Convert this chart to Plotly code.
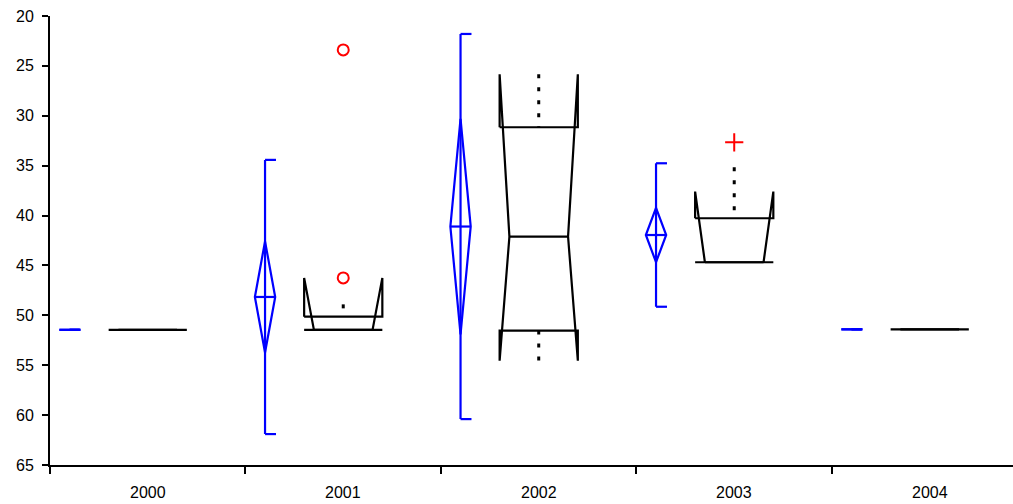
import plotly.graph_objects as go

# ---- data ----
categories = ["2000", "2001", "2002", "2003", "2004"]
mean = [51.45, 48.16, 41.1, 41.95, 51.4]
ci = [0.0, 5.57, 10.8, 2.72, 0.0]
sd = [0.0, 13.74, 19.3, 7.19, 0.0]
q1 = [51.45, 50.13, 31.15, 40.27, 51.4]
median = [51.45, 51.46, 42.11, 44.68, 51.4]
q3 = [51.45, 51.46, 51.53, 44.68, 51.4]
notch_lo = [51.45, 46.25, 25.84, 37.6, 51.4]
notch_hi = [51.45, 51.46, 54.54, 44.68, 51.4]
whisk_lo = [51.45, 48.9, 25.84, 35.16, 51.4]
whisk_hi = [51.45, 51.46, 54.54, 44.68, 51.4]
outlier_circle_cat = ["2001", "2001"]
outlier_circle_val = [23.4, 46.25]
outlier_plus_cat = ["2003"]
outlier_plus_val = [32.66]
y_ticks = [20, 25, 30, 35, 40, 45, 50, 55, 60, 65]

# ---- style constants ----
BLUE_OFF = -0.4
DIA_W = 0.052
CAP_W = 0.056
BOX_W = 0.2
INDENT = 0.05
FONT = "Liberation Sans, Arial, sans-serif"
FSIZE = 16

pos = {c: i + 0.5 for i, c in enumerate(categories)}

fig = go.Figure()

# blue mean / ci diamond / sd whiskers
bx, by = [], []
for c, m, e, s in zip(categories, mean, ci, sd):
    x = pos[c] + BLUE_OFF
    bx += [x, x, None]
    by += [m - s, m + s, None]
    bx += [x, x + CAP_W, None, x, x + CAP_W, None]
    by += [m - s, m - s, None, m + s, m + s, None]
    bx += [x, x - DIA_W, x, x + DIA_W, x, None]
    by += [m - e, m, m + e, m, m - e, None]
    bx += [x - DIA_W, x + DIA_W, None]
    by += [m, m, None]
fig.add_trace(go.Scatter(x=bx, y=by, mode="lines",
                         line=dict(color="#0000ff", width=2.2), hoverinfo="skip"))

# notched boxes
kx, ky = [], []
for c, a, md, b, nl, nh in zip(categories, q1, median, q3, notch_lo, notch_hi):
    L = pos[c] - BOX_W
    R = pos[c] + BOX_W
    kx += [L, L, L + INDENT, L, L, R, R, R - INDENT, R, R, L, None]
    ky += [a, nl, md, nh, b, b, nh, md, nl, a, a, None]
    kx += [L + INDENT, R - INDENT, None]
    ky += [md, md, None]
fig.add_trace(go.Scatter(x=kx, y=ky, mode="lines",
                         line=dict(color="black", width=2.2), hoverinfo="skip"))

# dotted whiskers
for c, a, b, wl, wh in zip(categories, q1, q3, whisk_lo, whisk_hi):
    x = pos[c]
    for y0, y1 in ((wl, a), (b, wh)):
        if abs(y1 - y0) > 0.01:
            fig.add_trace(go.Scatter(x=[x, x], y=[y0, y1], mode="lines",
                                     line=dict(color="black", width=3, dash="4px,9px"),
                                     hoverinfo="skip"))

# outliers
fig.add_trace(go.Scatter(x=[pos[c] for c in outlier_circle_cat], y=outlier_circle_val,
                         mode="markers",
                         marker=dict(symbol="circle-open", size=11, color="#ff0000",
                                     line=dict(width=2, color="#ff0000")), hoverinfo="skip"))
fig.add_trace(go.Scatter(x=[pos[c] for c in outlier_plus_cat], y=outlier_plus_val,
                         mode="markers",
                         marker=dict(symbol="cross-thin-open", size=13, color="#ff0000",
                                     line=dict(width=2, color="#ff0000")), hoverinfo="skip"))

# category labels
for c in categories:
    fig.add_annotation(x=pos[c], y=0, xref="x", yref="paper", text=c,
                       showarrow=False, yanchor="middle", yshift=-27,
                       font=dict(size=FSIZE, color="black", family=FONT))

fig.update_layout(
    width=1013, height=504,
    margin=dict(l=50, r=0, t=16, b=39),
    plot_bgcolor="white", paper_bgcolor="white",
    showlegend=False,
    font=dict(family=FONT, size=FSIZE, color="black"),
)
fig.update_xaxes(range=[0, 4.926], tickvals=[0, 1, 2, 3, 4, 5], showticklabels=False,
                 ticks="outside", ticklen=7, tickwidth=1.5, tickcolor="black",
                 showline=True, linecolor="black", linewidth=2,
                 showgrid=False, zeroline=False)
fig.update_yaxes(range=[65, 20], tickvals=y_ticks, ticks="outside", ticklen=6,
                 tickwidth=1.5, tickcolor="black", ticklabelstandoff=5,
                 showline=True, linecolor="black", linewidth=2,
                 showgrid=False, zeroline=False,
                 tickfont=dict(size=FSIZE, color="black", family=FONT))

fig.write_html("out.html", config={"displayModeBar": False},
               post_script="document.body.style.margin='0';")
